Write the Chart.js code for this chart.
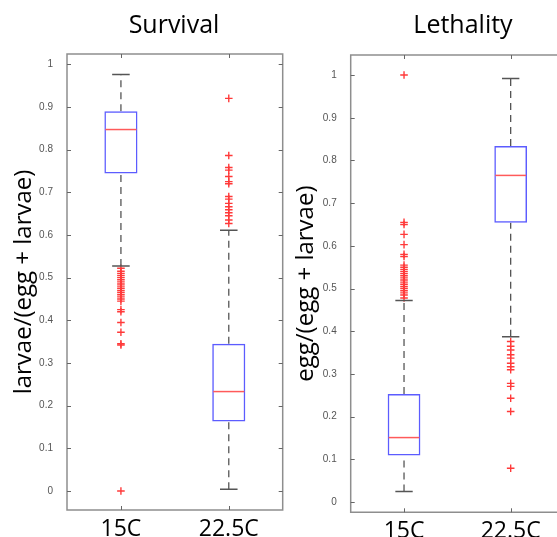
<!DOCTYPE html>
<html>
<head>
<meta charset="utf-8">
<script src="https://cdn.jsdelivr.net/npm/chart.js@4/dist/chart.umd.min.js"></script>
<style>
  body { margin: 0; background: #fff; width: 557px; height: 537px; overflow: hidden; position: relative; }
  canvas { position: absolute; top: 0; }
</style>
</head>
<body>
<canvas id="survival" width="348" height="537" style="left:0"></canvas>
<canvas id="lethality" width="346" height="537" style="left:290px"></canvas>
<script>
// categories and ticks
const categories = ['15C', '22.5C'];
const yTicks = [0, 0.1, 0.2, 0.3, 0.4, 0.5, 0.6, 0.7, 0.8, 0.9, 1];

// survival: larvae/(egg + larvae)
const survLow = [0.527, 0.004];
const survQ1 = [0.744, 0.163];
const survMedian = [0.847, 0.233];
const survQ3 = [0.890, 0.345];
const survHigh = [0.976, 0.611];
const survOut15 = [0.522, 0.515, 0.51, 0.505, 0.50, 0.495, 0.49, 0.485, 0.48, 0.475, 0.47, 0.465, 0.46, 0.455, 0.45, 0.445, 0.425, 0.42, 0.395, 0.372, 0.345, 0.342, 0.0];
const survOut225 = [0.92, 0.786, 0.758, 0.752, 0.737, 0.725, 0.72, 0.69, 0.684, 0.674, 0.666, 0.659, 0.652, 0.645, 0.635, 0.627];

// lethality: egg/(egg + larvae)
const lethLow = [0.025, 0.387];
const lethQ1 = [0.109, 0.654];
const lethMedian = [0.151, 0.765];
const lethQ3 = [0.253, 0.834];
const lethHigh = [0.472, 0.992];
const lethOut15 = [1.0, 0.655, 0.65, 0.627, 0.603, 0.58, 0.575, 0.555, 0.55, 0.545, 0.54, 0.535, 0.53, 0.525, 0.52, 0.515, 0.51, 0.505, 0.50, 0.495, 0.49, 0.485, 0.478];
const lethOut225 = [0.376, 0.365, 0.356, 0.345, 0.337, 0.325, 0.317, 0.31, 0.278, 0.271, 0.243, 0.212, 0.079];

Chart.defaults.font.family = "'Open Sans', sans-serif";
Chart.defaults.animation = false;

// medians, whisker caps and the box frame with inward ticks
function boxExtras(median, low, high) {
    return {
        id: 'boxExtras',
        afterDatasetsDraw(chart) {
            const ctx = chart.ctx;
            const y = chart.scales.y;
            const x = chart.scales.x;
            const bars = chart.getDatasetMeta(0).data;
            ctx.save();
            bars.forEach(function (bar, i) {
                const half = bar.width / 2;
                ctx.beginPath();
                ctx.strokeStyle = '#ff5a5a';
                ctx.lineWidth = 1.5;
                const my = y.getPixelForValue(median[i]);
                ctx.moveTo(bar.x - half + 1, my);
                ctx.lineTo(bar.x + half - 1, my);
                ctx.stroke();

                ctx.beginPath();
                ctx.strokeStyle = '#555';
                ctx.lineWidth = 1.5;
                [low[i], high[i]].forEach(function (v) {
                    const py = y.getPixelForValue(v);
                    ctx.moveTo(bar.x - half * 0.53, py);
                    ctx.lineTo(bar.x + half * 0.53, py);
                });
                ctx.stroke();
            });

            const a = chart.chartArea;
            ctx.beginPath();
            ctx.strokeStyle = '#8e8e8e';
            ctx.lineWidth = 1.5;
            ctx.rect(a.left, a.top, a.right - a.left, a.bottom - a.top);
            ctx.stroke();

            ctx.beginPath();
            ctx.strokeStyle = '#666';
            ctx.lineWidth = 1;
            y.ticks.forEach(function (t) {
                const py = Math.round(y.getPixelForValue(t.value)) + 0.5;
                ctx.moveTo(a.left, py); ctx.lineTo(a.left + 4, py);
                ctx.moveTo(a.right, py); ctx.lineTo(a.right - 4, py);
            });
            x.ticks.forEach(function (t, i) {
                const px = Math.round(x.getPixelForTick(i)) + 0.5;
                ctx.moveTo(px, a.top); ctx.lineTo(px, a.top + 4);
                ctx.moveTo(px, a.bottom); ctx.lineTo(px, a.bottom - 4);
            });
            ctx.stroke();
            ctx.restore();
        }
    };
}

function makePanel(id, p) {
    const datasets = [{
        type: 'bar',
        data: categories.map((c, i) => [p.q1[i], p.q3[i]]),
        backgroundColor: 'rgba(0,0,0,0)',
        borderColor: '#5c5cff',
        borderWidth: 1.5,
        borderSkipped: false,
        barPercentage: 1,
        categoryPercentage: 0.307
    }];

    // dashed whiskers
    categories.forEach(function (c, i) {
        [[p.q3[i], p.high[i]], [p.low[i], p.q1[i]]].forEach(function (seg) {
            datasets.push({
                type: 'line',
                data: [{ x: c, y: seg[0] }, { x: c, y: seg[1] }],
                borderColor: '#555',
                borderWidth: 1.3,
                borderDash: [7, 5],
                pointRadius: 0
            });
        });
    });

    // outliers
    [p.out15, p.out225].forEach(function (vals, i) {
        datasets.push({
            type: 'line',
            data: vals.map(v => ({ x: categories[i], y: v })),
            showLine: false,
            pointStyle: 'cross',
            pointRadius: 3.8,
            borderColor: '#ff3a3a',
            borderWidth: 1.4
        });
    });

    return new Chart(document.getElementById(id), {
        type: 'bar',
        data: { labels: categories, datasets: datasets },
        options: {
            responsive: false,
            layout: { padding: 0 },
            plugins: {
                legend: { display: false },
                tooltip: { enabled: false },
                title: {
                    display: true,
                    text: p.title,
                    color: '#000',
                    font: { size: 25, weight: 'normal' },
                    padding: { top: 11.3, bottom: p.titleBottom }
                }
            },
            scales: {
                x: {
                    type: 'category',
                    grid: { display: false },
                    border: { display: false },
                    ticks: { color: '#000', font: { size: 23 }, padding: p.xPad },
                    afterFit: s => { s.height = p.xHeight; }
                },
                y: {
                    position: 'left',
                    min: p.min,
                    max: p.max,
                    afterBuildTicks: s => { s.ticks = yTicks.map(v => ({ value: v })); },
                    grid: { display: false },
                    border: { display: false },
                    ticks: {
                        color: '#555',
                        padding: 6,
                        font: { family: "'Liberation Sans', Arial, sans-serif", size: 10 },
                        callback: v => String(v)
                    },
                    title: {
                        display: true,
                        text: p.yTitle,
                        color: '#000',
                        font: { size: 24 },
                        padding: { top: p.yTitlePad, bottom: 0 }
                    },
                    afterFit: s => { s.width = p.yWidth; }
                },
                y2: {
                    position: 'right',
                    grid: { display: false },
                    border: { display: false },
                    ticks: { display: false },
                    afterFit: s => { s.width = p.rightWidth; }
                }
            }
        },
        plugins: [boxExtras(p.median, p.low, p.high)]
    });
}

makePanel('survival', {
    title: 'Survival', yTitle: 'larvae/(egg + larvae)',
    q1: survQ1, q3: survQ3, median: survMedian, low: survLow, high: survHigh,
    out15: survOut15, out225: survOut225,
    min: -0.0445, max: 1.024,
    titleBottom: 12.7, xHeight: 27, xPad: -2,
    yWidth: 67, yTitlePad: 9.3, rightWidth: 65.3
});

makePanel('lethality', {
    title: 'Lethality', yTitle: 'egg/(egg + larvae)',
    q1: lethQ1, q3: lethQ3, median: lethMedian, low: lethLow, high: lethHigh,
    out15: lethOut15, out225: lethOut225,
    min: -0.024, max: 1.047,
    titleBottom: 13.7, xHeight: 24.7, xPad: -3,
    yWidth: 60.7, yTitlePad: 2, rightWidth: 72
});
</script>
</body>
</html>
